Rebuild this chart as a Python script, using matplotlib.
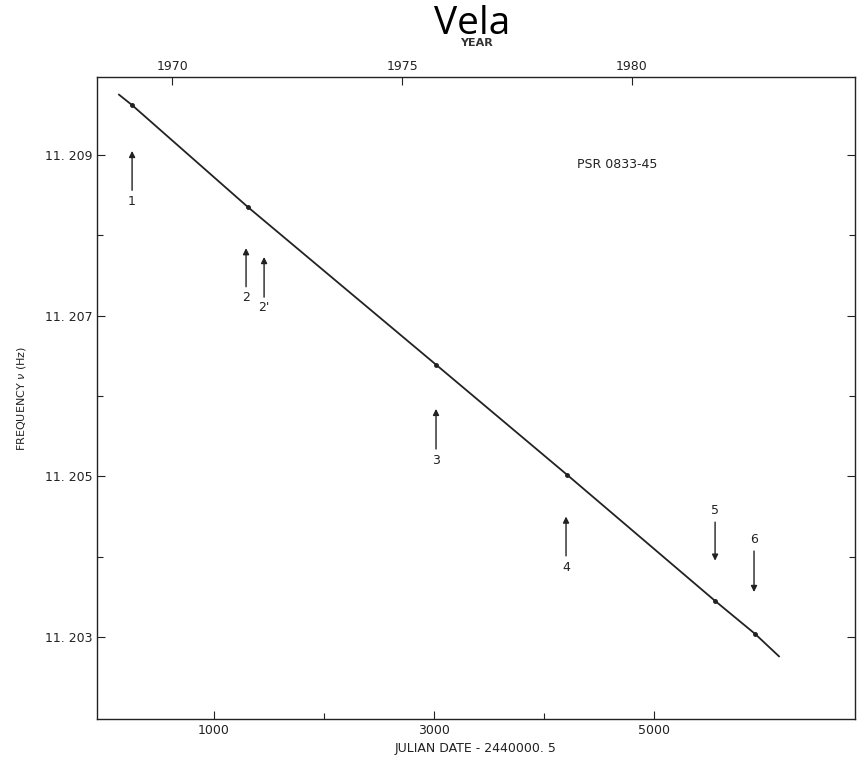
import matplotlib
matplotlib.use("Agg")
import matplotlib.pyplot as plt

# Data
line_jd = [136, 255, 1309, 3018, 4209, 5555, 5918, 6136]
line_freq = [11.20975, 11.20962, 11.20835, 11.20639, 11.20502, 11.20345, 11.20304, 11.20276]
glitch_jd = [255, 1309, 3018, 4209, 5555, 5918]
glitch_freq = [11.20962, 11.20835, 11.20639, 11.20502, 11.20345, 11.20304]

arrow_labels = ["1", "2", "2'", "3", "4", "5", "6"]
arrow_x = [255, 1291, 1455, 3018, 4200, 5555, 5909]
arrow_tail = [11.20856, 11.20736, 11.20723, 11.20534, 11.20401, 11.20443, 11.20407]
arrow_head = [11.20905, 11.20784, 11.20773, 11.20584, 11.20450, 11.20395, 11.20356]
label_y = [11.20842, 11.20723, 11.20710, 11.20520, 11.20387, 11.20457, 11.20421]

x_ticks = [1000, 3000, 5000]
x_minor = [2000, 4000]
y_ticks = [11.203, 11.205, 11.207, 11.209]
y_tick_labels = ["11. 203", "11. 205", "11. 207", "11. 209"]
y_minor = [11.204, 11.206, 11.208]
year_pos = [620, 2710, 4800]
year_labels = ["1970", "1975", "1980"]

fig = plt.figure(figsize=(8.61, 7.62), dpi=100)
ax = fig.add_axes([97/861, 1-719/762, (855-97)/861, (719-77)/762])
ink = "#222222"

ax.plot(line_jd, line_freq, color=ink, lw=1.3)
ax.plot(glitch_jd, glitch_freq, "o", color=ink, ms=2.5)

for lab, x, t, h, ly in zip(arrow_labels, arrow_x, arrow_tail, arrow_head, label_y):
    ax.annotate("", xy=(x, h), xytext=(x, t),
                arrowprops=dict(arrowstyle="-|>", color=ink, lw=1.0,
                                mutation_scale=9, shrinkA=0, shrinkB=0))
    ax.text(x, ly, lab, ha="center", va="center", fontsize=9,
            family="DejaVu Sans", color=ink)

ax.text(4300, 11.20888, "PSR 0833-45", ha="left", va="center", fontsize=9,
        family="DejaVu Sans", color=ink)

ax.set_xlim(-64, 6827)
ax.set_ylim(11.20198, 11.20997)

ax.set_xticks(x_ticks)
ax.set_xticklabels([str(v) for v in x_ticks])
ax.set_xticks(x_minor, minor=True)
ax.set_yticks(y_ticks)
ax.set_yticklabels(y_tick_labels)
ax.set_yticks(y_minor, minor=True)
ax.tick_params(axis="both", which="both", direction="in", right=True,
               color=ink, labelsize=9, labelcolor=ink)
ax.tick_params(which="major", length=6, width=0.8)
ax.tick_params(which="minor", length=4, width=0.8)
ax.tick_params(axis="y", which="both", labelright=False)
for lbl in ax.get_xticklabels() + ax.get_yticklabels():
    lbl.set_family("DejaVu Sans")

for s in ax.spines.values():
    s.set_color(ink)
    s.set_linewidth(1.0)

ax.set_xlabel("JULIAN DATE - 2440000. 5", fontsize=9, color=ink, labelpad=4)
ax.set_ylabel("FREQUENCY $\\nu$ (Hz)", fontsize=8, color=ink, labelpad=12)

top = ax.twiny()
top.set_xlim(ax.get_xlim())
top.set_xticks(year_pos)
top.set_xticklabels(year_labels)
top.tick_params(direction="in", length=6, width=0.8, color=ink, labelsize=9,
                labelcolor=ink, pad=3)
top.set_xlabel("YEAR", fontsize=8, color="#333333", labelpad=10,
               fontweight="bold")
for s in top.spines.values():
    s.set_visible(False)

fig.text(472/861, 1-24/762, "Vela", ha="center", va="center", fontsize=28,
         family="Open Sans", color="black")

fig.savefig("out.png", dpi=100, facecolor="white")
